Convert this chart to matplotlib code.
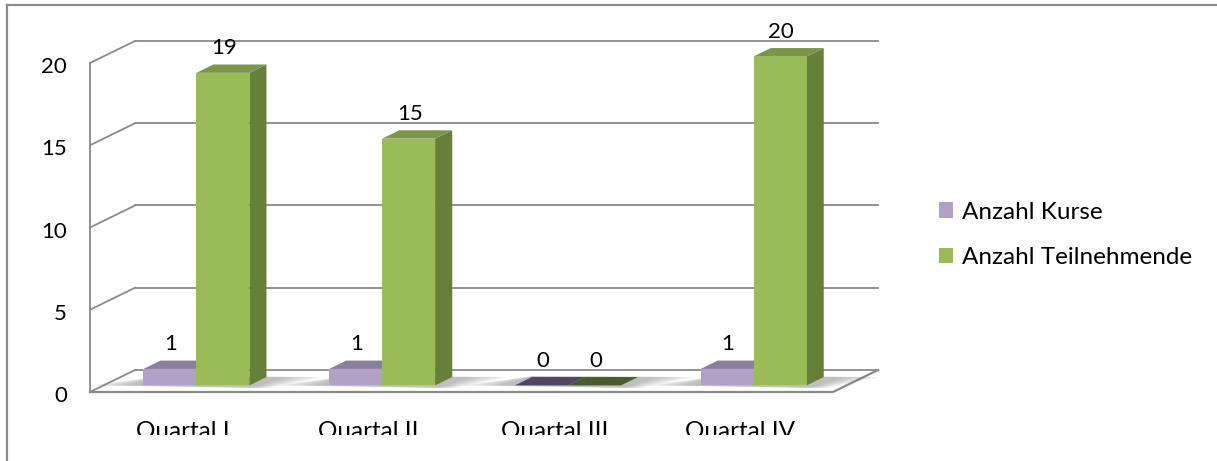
import matplotlib
matplotlib.use('Agg')
import matplotlib.pyplot as plt
from matplotlib.patches import Polygon, Patch
from matplotlib.transforms import Bbox

# ---------------- data ----------------
categories = ['Quartal I', 'Quartal II', 'Quartal III', 'Quartal IV']
kurse = [1, 1, 0, 1]
teilnehmende = [19, 15, 0, 20]
series_names = ['Anzahl Kurse', 'Anzahl Teilnehmende']
yticks = [0, 5, 10, 15, 20]

# ---------------- styles ----------------
FONT = ['Lato', 'DejaVu Sans']
plt.rcParams['font.family'] = FONT
GRID = '#8a8a8a'
face = {'front': ['#b2a1c7', '#9bbb59'],
        'top': ['#8b7e9f', '#7b9648'],
        'side': ['#726686', '#66803a'],
        'flat': ['#4f4762', '#4b5a2a']}
FS_NUM = 16
FS_TXT = 17.5

W, H = 1217, 461
fig = plt.figure(figsize=(W / 100, H / 100), dpi=100)
ax = fig.add_axes([0, 0, 1, 1])
ax.axis('off')

# layout of the front plane in pixels
px0, px1 = 90, 833
py0, py20 = 392, 63
ymax = yticks[-1]
ncat = len(categories)
cat_px = (px1 - px0) / ncat
val_px = (py0 - py20) / ymax
ax.set_xlim((0 - px0) / cat_px, (W - px0) / cat_px)
ax.set_ylim((py0 - H) / val_px, (py0 - 0) / val_px)

DX = 45 / cat_px       # depth offset of the wall (x)
DY = 22 / val_px       # depth offset of the wall (y)
d0, d1 = 0.30, 0.68    # bar depth range (fraction of wall depth)
bw = 53 / cat_px       # bar width

# ---------------- outer frame ----------------
fig.add_artist(plt.Line2D([7 / W, 7 / W], [0, 1 - 5 / H], color=GRID, lw=1.6))
fig.add_artist(plt.Line2D([7 / W, 1], [1 - 5 / H, 1 - 5 / H], color=GRID, lw=1.6))

# ---------------- walls / grid ----------------
for v in yticks:
    ax.plot([DX, ncat + DX], [v + DY, v + DY], color=GRID, lw=1.3, zorder=1)
    ax.plot([0, DX], [v, v + DY], color=GRID, lw=1.3, zorder=1)
    ax.text(-23 / cat_px, v - 4 / val_px, str(v), ha='right', va='center',
            fontsize=FS_NUM, color='#000000')
ax.plot([0, 0], [0, ymax], color=GRID, lw=1.3, zorder=1)
ax.plot([0, ncat, ncat + DX], [0, 0, DY], color=GRID, lw=1.6, zorder=1)


def draw_bar(xl, xr, v, k, zb):
    y0 = d0 * DY
    ddx, ddy = (d1 - d0) * DX, (d1 - d0) * DY
    if v == 0:
        ax.add_patch(Polygon([(xl, y0), (xr, y0), (xr + ddx, y0 + ddy), (xl + ddx, y0 + ddy)],
                             closed=True, facecolor=face['flat'][k], edgecolor='none', zorder=zb))
        return
    top = y0 + v
    ax.add_patch(Polygon([(xr, y0), (xr + ddx, y0 + ddy), (xr + ddx, top + ddy), (xr, top)],
                         closed=True, facecolor=face['side'][k], edgecolor='none', zorder=zb))
    ax.add_patch(Polygon([(xl, top), (xr, top), (xr + ddx, top + ddy), (xl + ddx, top + ddy)],
                         closed=True, facecolor=face['top'][k], edgecolor='none', zorder=zb))
    ax.add_patch(Polygon([(xl, y0), (xr, y0), (xr, top), (xl, top)],
                         closed=True, facecolor=face['front'][k], edgecolor='none', zorder=zb + 0.1))


def draw_shadow(xl, xr):
    # soft floor shadow behind the pair of bars
    for j in range(8):
        e = 0.012 * j
        pts = [(xl - 0.09 - e * 2.5, d0 * DY), (xr + 0.02 + e, d0 * DY - 0.15),
               (xr + (d1 - d0) * DX + 0.10 + e * 2.5, (d1 - d0) * DY + d0 * DY),
               (xl + (d1 - d0) * DX, (d1 - d0) * DY + d0 * DY + 0.05)]
        ax.add_patch(Polygon(pts, closed=True, facecolor='#606060', alpha=0.06,
                             edgecolor='none', zorder=1.5))


clipbox = Bbox.from_extents(0, H - 435, W, H)
for i, cat in enumerate(categories):
    cx = i + 0.5 + d0 * DX
    xl_p, xm, xr_g = cx - bw, cx, cx + bw
    draw_shadow(xl_p, xr_g)
    vals = [kurse[i], teilnehmende[i]]
    draw_bar(xl_p, xm, vals[0], 0, 2)
    draw_bar(xm, xr_g, vals[1], 1, 3)
    for k, (a, b) in enumerate([(xl_p, xm), (xm, xr_g)]):
        ax.text((a + b) / 2 + 1 / cat_px, vals[k] + 1.95 - 1 / val_px, str(vals[k]),
                ha='center', va='center', fontsize=FS_NUM, color='#000000', zorder=5)
    t = ax.text(i + 0.5, (py0 - 437) / val_px, cat, ha='center', va='baseline',
                fontsize=FS_TXT, color='#000000')
    t.set_clip_box(clipbox)
    t.set_clip_on(True)

handles = [Patch(facecolor=face['front'][k], edgecolor='none') for k in range(2)]
fig.legend(handles, series_names, loc='center left', bbox_to_anchor=(939 / W, 1 - 235 / H),
           frameon=False, fontsize=FS_TXT, handlelength=0.58, handleheight=0.58,
           handletextpad=0.37, labelspacing=1.02, borderpad=0, borderaxespad=0)

fig.savefig('out.png', dpi=100)
